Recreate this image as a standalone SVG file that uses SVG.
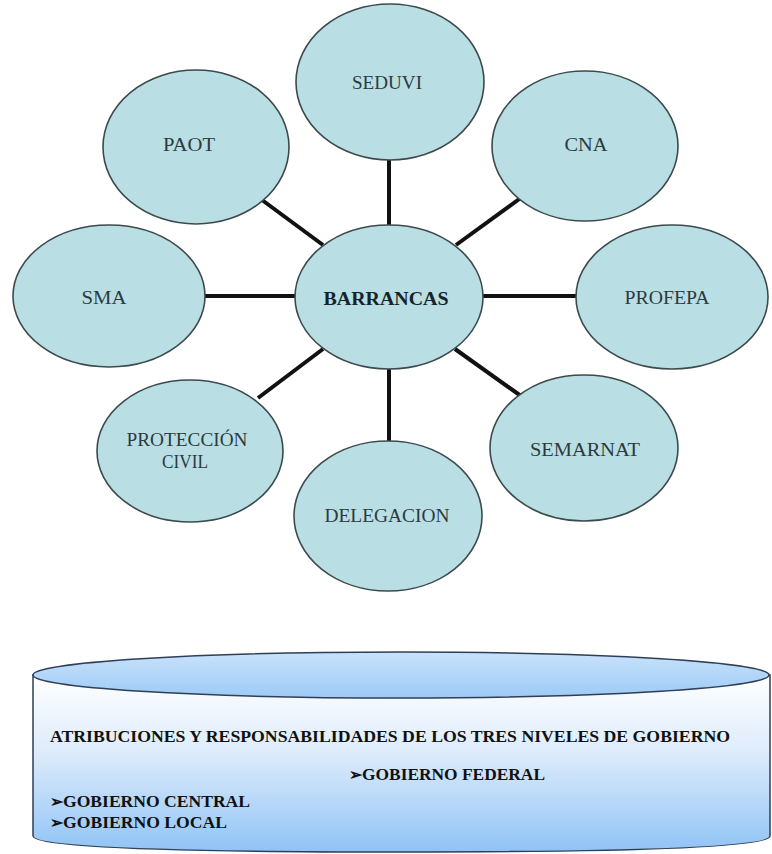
<svg xmlns="http://www.w3.org/2000/svg" width="772" height="854" viewBox="0 0 772 854">
<style>
.node ellipse{fill:#b9dfe4;stroke:#3c4a4c;stroke-width:1.6}
.node text{font-family:"Liberation Serif","DejaVu Serif",serif;font-size:18px;fill:#2c3a3e;text-anchor:middle}
.conn line{stroke:#111;stroke-width:4}
.cyl text{font-family:"Liberation Serif","DejaVu Serif",serif;font-size:16px;font-weight:bold;fill:#111}
.bul{font-family:"DejaVu Sans",sans-serif;font-size:13px;font-weight:bold}
</style>
<defs>
<linearGradient id="body" x1="0" y1="0" x2="0" y2="1">
<stop offset="0" stop-color="#ffffff"/>
<stop offset="0.45" stop-color="#dcebfb"/>
<stop offset="1" stop-color="#8fc3f5"/>
</linearGradient>
<linearGradient id="top" x1="0" y1="0" x2="0" y2="1">
<stop offset="0" stop-color="#c9e2fb"/>
<stop offset="1" stop-color="#9ccaf6"/>
</linearGradient>
</defs>
<rect width="772" height="854" fill="#fff"/>
<g id="connectors" class="conn">
<line x1="389" y1="158" x2="389" y2="226"/>
<line x1="258" y1="197" x2="323" y2="245"/>
<line x1="522" y1="197" x2="456" y2="245"/>
<line x1="204" y1="296" x2="296" y2="296"/>
<line x1="482" y1="296" x2="577" y2="296"/>
<line x1="455" y1="349" x2="528" y2="401"/>
<line x1="389" y1="368" x2="389" y2="441"/>
<line x1="323" y1="349" x2="258" y2="398"/>
</g>
<g id="seduvi" class="node"><ellipse cx="390" cy="82" rx="94" ry="78"/><text x="387" y="89" textLength="70" lengthAdjust="spacingAndGlyphs">SEDUVI</text></g>
<g id="paot" class="node"><ellipse cx="196" cy="147" rx="93" ry="77"/><text x="189" y="151" textLength="52" lengthAdjust="spacingAndGlyphs">PAOT</text></g>
<g id="cna" class="node"><ellipse cx="585" cy="146" rx="93" ry="75"/><text x="586" y="151" textLength="43" lengthAdjust="spacingAndGlyphs">CNA</text></g>
<g id="sma" class="node"><ellipse cx="109" cy="296" rx="96" ry="71"/><text x="104" y="304" textLength="45" lengthAdjust="spacingAndGlyphs">SMA</text></g>
<g id="barrancas" class="node"><ellipse cx="389" cy="297" rx="94" ry="72"/><text x="386" y="305" textLength="125" lengthAdjust="spacingAndGlyphs" style="font-weight:bold;fill:#15242a;font-size:19px">BARRANCAS</text></g>
<g id="profepa" class="node"><ellipse cx="672" cy="297" rx="96" ry="72"/><text x="667" y="304" textLength="85" lengthAdjust="spacingAndGlyphs">PROFEPA</text></g>
<g id="semarnat" class="node"><ellipse cx="584" cy="448" rx="94" ry="73"/><text x="585" y="456" textLength="110" lengthAdjust="spacingAndGlyphs">SEMARNAT</text></g>
<g id="delegacion" class="node"><ellipse cx="388" cy="516" rx="94" ry="75"/><text x="387" y="522" textLength="125" lengthAdjust="spacingAndGlyphs">DELEGACION</text></g>
<g id="proteccion" class="node"><ellipse cx="190" cy="451" rx="93" ry="71"/><text x="187" y="446" textLength="121" lengthAdjust="spacingAndGlyphs">PROTECCIÓN</text><text x="185" y="468" textLength="46" lengthAdjust="spacingAndGlyphs">CIVIL</text></g>
<g id="cylinder" class="cyl">
<path d="M33 675 L33 836 Q33 852 400 852 Q770 852 770 836 L770 675 Z" fill="url(#body)" stroke="#2f3f55" stroke-width="1.5"/>
<ellipse cx="401" cy="675" rx="368" ry="23" fill="url(#top)" stroke="#2f3f55" stroke-width="1.5"/>
<text x="50" y="742" textLength="680" lengthAdjust="spacingAndGlyphs">ATRIBUCIONES Y RESPONSABILIDADES DE LOS TRES NIVELES DE GOBIERNO</text>
<text x="349" y="780" class="bul">➢</text><text x="362" y="780" textLength="183" lengthAdjust="spacingAndGlyphs">GOBIERNO FEDERAL</text>
<text x="50" y="807" class="bul">➢</text><text x="63" y="807" textLength="187" lengthAdjust="spacingAndGlyphs">GOBIERNO CENTRAL</text>
<text x="50" y="828" class="bul">➢</text><text x="63" y="828" textLength="164" lengthAdjust="spacingAndGlyphs">GOBIERNO LOCAL</text>
</g>
</svg>
